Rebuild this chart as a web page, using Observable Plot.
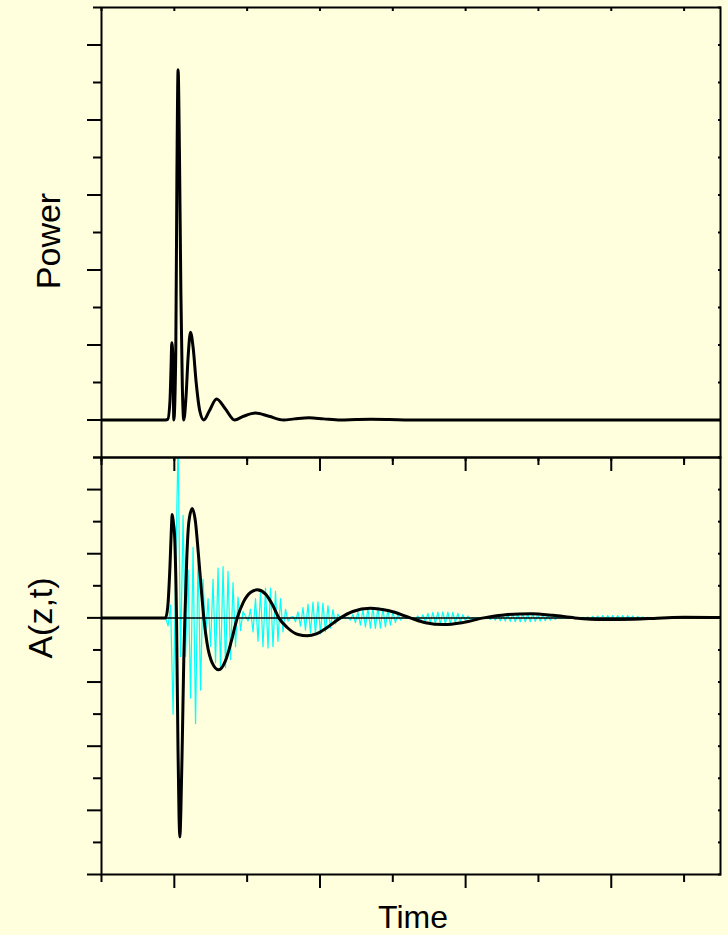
<!DOCTYPE html>
<html><head><meta charset="utf-8">
<script src="https://cdn.jsdelivr.net/npm/d3@7"></script>
<script src="https://cdn.jsdelivr.net/npm/@observablehq/plot@0.6"></script>
<style>
html,body{margin:0;padding:0;background:#FFFFDD;}
#wrap{position:relative;width:728px;height:935px;background:#FFFFDD;font-family:"Liberation Sans",Arial,sans-serif;overflow:hidden}
#wrap svg{position:absolute;left:0;background:transparent}
.lab{position:absolute;color:#000;white-space:nowrap;line-height:1}
</style></head><body><div id="wrap"></div>
<script>
// ---- data ----
const powerTime  = [-1, -0.12, -0.09, -0.06, -0.045, -0.035, -0.02, -0.007, 0.02, 0.035, 0.052, 0.07, 0.09, 0.11, 0.13, 0.16, 0.19, 0.222, 0.26, 0.30, 0.35, 0.405, 0.48, 0.58, 0.70, 0.827, 0.95, 1.115, 1.3, 1.5, 1.65, 1.85, 2.05, 2.28, 2.5, 2.7, 2.95, 3.24, 7.5];
const powerValue = [0, 0, 0.01, 0.25, 0.7, 1.03, 0.85, 0, 0.9, 3.2, 4.67, 3.6, 1.7, 0.45, 0, 0.3, 0.85, 1.17, 0.95, 0.5, 0.12, 0, 0.12, 0.28, 0.15, 0, 0.05, 0.093, 0.05, 0, 0.015, 0.03, 0.015, 0, 0.006, 0.009, 0.006, 0, 0];

const envTime  = [-1, -0.12, -0.09, -0.06, -0.04, -0.029, -0.012, 0.003, 0.03, 0.05, 0.065, 0.076, 0.09, 0.11, 0.13, 0.145, 0.17, 0.2, 0.245, 0.29, 0.33, 0.37, 0.405, 0.45, 0.52, 0.611, 0.7, 0.78, 0.864, 0.95, 1.05, 1.138, 1.25, 1.35, 1.435, 1.55, 1.7, 1.825, 1.95, 2.1, 2.28, 2.45, 2.69, 2.95, 3.24, 3.45, 3.7, 3.95, 4.25, 4.55, 4.9, 5.2, 5.5, 5.9, 6.3, 6.7, 7.0, 7.5];
const envValue = [0, 0, 0.35, 1.6, 2.8, 3.22, 2.95, 2.6, 0, -4.0, -6.2, -6.83, -6.0, -3.8, -1.3, 0, 1.8, 3.0, 3.41, 3.0, 2.0, 0.9, 0, -0.8, -1.4, -1.62, -1.35, -0.75, 0, 0.5, 0.8, 0.875, 0.75, 0.4, 0, -0.3, -0.52, -0.56, -0.5, -0.3, 0, 0.2, 0.30, 0.22, 0, -0.15, -0.21, -0.15, 0, 0.1, 0.13, 0.08, 0, -0.05, -0.04, 0, 0.02, 0.01];

// carrier (cyan) : signed extreme values of each half cycle, one every carrierStep
const carrierStart = -0.12;
const carrierStep = 0.0343;
const carrierPeaks = [
  0, -0.25, 0.4, -3.0, 1.2, 5.5, -1.2, 3.2, -1.2, 1.5, -2.5, 2.2, -3.3, 2.0, -2.25, 1.2, -0.6,
  0.6, -0.9, 1.2, -1.4, 1.55, -1.6, 1.6, -1.55, 1.45, -1.3, 1.1, -0.9, 0.65, -0.4, 0.2,
  0.05,
  -0.1, 0.27, -0.44, 0.6, -0.73, 0.83, -0.9, 0.93, -0.94, 0.93, -0.9, 0.83, -0.73, 0.6, -0.44, 0.27, -0.1,
  0.02,
  0.04, -0.12, 0.19, -0.26, 0.32, -0.38, 0.43, -0.46, 0.49, -0.5, 0.5, -0.49, 0.46, -0.43, 0.38, -0.32, 0.26, -0.19, 0.12, -0.04,
  0.01, -0.01,
  0.02, -0.07, 0.11, -0.15, 0.19, -0.23, 0.26, -0.28, 0.3, -0.32, 0.33, -0.33, 0.33, -0.32, 0.3, -0.28, 0.26, -0.23, 0.19, -0.15, 0.11, -0.07, 0.02,
  -0.01, 0.01, -0.01,
  0.01, -0.04, 0.06, -0.08, 0.10, -0.12, 0.14, -0.15, 0.17, -0.18, 0.18, -0.19, 0.19, -0.19, 0.18, -0.18, 0.17, -0.15, 0.14, -0.12, 0.10, -0.08, 0.06, -0.04, 0.01,
  -0.01, 0.01, -0.01,
  0.01, -0.02, 0.03, -0.05, 0.06, -0.07, 0.08, -0.09, 0.10, -0.10, 0.11, -0.11, 0.12, -0.12, 0.12, -0.12, 0.12, -0.12, 0.12, -0.12, 0.12, -0.11, 0.11, -0.10, 0.10, -0.09, 0.08, -0.07, 0.06, -0.05, 0.03, -0.02, 0.01,
  -0.01, 0.01, -0.01, 0.01, -0.01,
  0.01, -0.01, 0.02, -0.03, 0.03, -0.04, 0.05, -0.05, 0.06, -0.06, 0.07, -0.07, 0.07, -0.07, 0.07, -0.07, 0.07, -0.07, 0.07, -0.07, 0.07, -0.06, 0.06, -0.05, 0.05, -0.04, 0.03, -0.03, 0.02, -0.01, 0.01,
  0
];

const timeMajorTicks = [0, 2, 4, 6];
const timeMinorTicks = [-1, 1, 3, 5, 7];
const powerMajorTicks = [0, 1, 2, 3, 4, 5];
const powerMinorTicks = [-0.5, 0.5, 1.5, 2.5, 3.5, 4.5, 5.5];
const ampMajorTicks = [-8, -6, -4, -2, 0, 2, 4];
const ampMinorTicks = [-7, -5, -3, -1, 1, 3, 5];

const xLabel = "Time";
const yLabelTop = "Power";
const yLabelBottom = "A(z,t)";

// ---- tables ----
const powerData = powerTime.map((t, i) => ({t, v: powerValue[i]}));
const envData = envTime.map((t, i) => ({t, v: envValue[i]}));
const carrierData = carrierPeaks.map((v, i) => ({t: carrierStart + i * carrierStep, v}));

const blank = () => "";
function axes(yMajor, yMinor, allTicks) {
  const xAll = [...timeMajorTicks, ...timeMinorTicks];
  return [
    Plot.axisY({ticks: yMajor, tickSize: 14, tickFormat: blank, strokeWidth: 2, label: null}),
    Plot.axisY({ticks: yMinor, tickSize: 8, tickFormat: blank, strokeWidth: 2, label: null}),
    Plot.axisY({anchor: "right", ticks: allTicks, tickSize: -3, tickFormat: blank, strokeWidth: 2, label: null}),
    Plot.axisX({ticks: timeMajorTicks, tickSize: 14, tickFormat: blank, strokeWidth: 2, label: null}),
    Plot.axisX({ticks: timeMinorTicks, tickSize: 8, tickFormat: blank, strokeWidth: 2, label: null}),
    Plot.axisX({anchor: "top", ticks: xAll, tickSize: -3, tickFormat: blank, strokeWidth: 2, label: null}),
    Plot.frame({stroke: "black", strokeWidth: 2})
  ];
}

const topChart = Plot.plot({
  width: 728, height: 475,
  marginTop: 7, marginBottom: 18, marginLeft: 101, marginRight: 8,
  style: {background: "transparent", overflow: "visible"},
  x: {domain: [-1, 7.5]},
  y: {domain: [-0.5, 5.5]},
  marks: [
    Plot.line(powerData, {x: "t", y: "v", stroke: "black", strokeWidth: 3, curve: "monotone-x", clip: true}),
    ...axes(powerMajorTicks, powerMinorTicks, [...powerMajorTicks, ...powerMinorTicks])
  ]
});

const bottomChart = Plot.plot({
  width: 728, height: 495,
  marginTop: 17, marginBottom: 61, marginLeft: 101, marginRight: 8,
  style: {background: "transparent", overflow: "visible"},
  x: {domain: [-1, 7.5]},
  y: {domain: [-8, 5]},
  marks: [
    Plot.line(carrierData, {x: "t", y: "v", stroke: "#00FFFF", strokeWidth: 1.2, clip: true}),
    Plot.ruleY([0], {stroke: "black", strokeWidth: 1.5}),
    Plot.line(envData, {x: "t", y: "v", stroke: "black", strokeWidth: 3, curve: "monotone-x", clip: true}),
    ...axes(ampMajorTicks, ampMinorTicks, [...ampMajorTicks, ...ampMinorTicks])
  ]
});

const wrap = document.getElementById("wrap");
bottomChart.style.top = "440px";
topChart.style.top = "0px";
wrap.appendChild(bottomChart);
wrap.appendChild(topChart);

function label(text, cx, cy, rot, size) {
  const d = document.createElement("div");
  d.className = "lab";
  d.textContent = text;
  d.style.fontSize = size + "px";
  d.style.left = cx + "px";
  d.style.top = cy + "px";
  d.style.transform = "translate(-50%,-50%)" + (rot ? " rotate(-90deg)" : "");
  wrap.appendChild(d);
}
label(yLabelTop, 48, 241, true, 34);
label(yLabelBottom, 40, 618, true, 34);
label(xLabel, 413, 917, false, 32);
</script></body></html>
